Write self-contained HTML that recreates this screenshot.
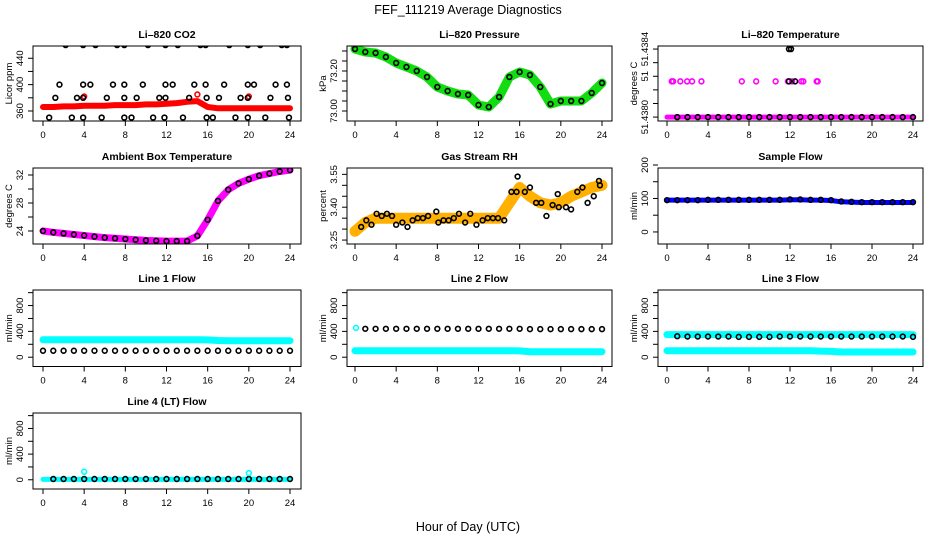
<!DOCTYPE html>
<html><head><meta charset="utf-8">
<style>
html,body{margin:0;padding:0;background:#fff;}
svg{display:block;font-family:"Liberation Sans",Arial,sans-serif;}
.tl{font-size:9.5px;fill:#000;}
.tt{font-size:10.5px;font-weight:bold;fill:#000;}
</style></head>
<body>
<svg id="chart" width="936" height="540" viewBox="0 0 936 540">
<rect width="936" height="540" fill="#fff"/>
<text x="468" y="14" text-anchor="middle" font-size="12.5">FEF_111219  Average Diagnostics</text>
<text x="468" y="531" text-anchor="middle" font-size="12.5">Hour of Day (UTC)</text>
</svg>
<script>
// ---- data ----
const hours = [0,1,2,3,4,5,6,7,8,9,10,11,12,13,14,15,16,17,18,19,20,21,22,23,24];
const xTicks = [0,4,8,12,16,20,24];
// CO2
const co2Band = [366,366,367,367,368,368,368,369,369,369,370,370,371,372,374,375,366,364,364,364,364,364,364,364,364];
const co2TopH = [2.2,3.9,5.1,7.2,7.9,10.2,11.9,13.1,15.3,15.8,18.1,19.9,21.1,23.2,23.7];
const co2MidH = [1.6,3.9,4.6,6.8,7.9,9.7,11.9,12.6,14.7,15.8,17.6,19.9,20.5,22.6,23.7];
const co2LowH = [1.2,3.3,3.9,6.2,7.9,9.1,11.3,11.9,14.2,15.9,17.1,19.2,19.9,22.1,23.8];
const co2BotH = [0.6,2.8,3.9,5.7,7.9,8.6,10.7,11.8,13.6,15.9,16.5,18.7,19.9,21.6,23.9];
const co2Levels = [460,400,380,350];
const co2OutH = [4,15,20];
const co2OutV = [382,385,382];
// Pressure
const presBand = [73.31,73.295,73.29,73.27,73.24,73.22,73.20,73.17,73.12,73.10,73.085,73.08,73.03,73.02,73.07,73.17,73.195,73.18,73.12,73.035,73.05,73.05,73.05,73.09,73.14];
// Li-820 temperature
const tempLow = 51.4380, tempMid = 51.43821, tempTop = 51.4384;
const tempMidH = [0.46,0.6,1.3,1.96,2.45,3.36,7.3,8.7,10.6,11.8,12.2,13.1,13.3,14.6,14.7];
const tempBlackMidH = [11.9,12.5];
const tempTopH = [11.9,12.1];
// Ambient
const ambBand = [24.0,23.8,23.65,23.5,23.35,23.2,23.05,22.95,22.85,22.75,22.65,22.6,22.55,22.55,22.55,23.3,25.6,28.3,29.9,30.8,31.4,31.9,32.2,32.5,32.7];
// RH
const rhBand = [3.29,3.33,3.35,3.35,3.35,3.35,3.35,3.35,3.35,3.35,3.35,3.35,3.35,3.35,3.35,3.42,3.49,3.45,3.42,3.41,3.42,3.45,3.47,3.49,3.50];
const rhBlackH = [0.6,1.1,1.6,2.1,2.6,3.1,3.6,4.0,4.6,5.1,5.6,6.1,6.6,7.1,7.9,8.1,8.6,9.1,9.6,10.1,10.7,11.2,11.8,12.4,12.9,13.4,13.9,14.5,15.2,15.8,15.7,16.5,17.0,17.6,18.1,18.6,19.2,19.7,19.8,20.5,21.0,21.6,22.1,22.6,23.2,23.7,23.8];
const rhBlackV = [3.31,3.34,3.32,3.37,3.36,3.37,3.36,3.32,3.33,3.31,3.34,3.35,3.35,3.36,3.38,3.33,3.34,3.34,3.35,3.37,3.33,3.37,3.32,3.34,3.35,3.35,3.35,3.34,3.47,3.54,3.47,3.47,3.49,3.42,3.42,3.36,3.41,3.46,3.40,3.40,3.39,3.47,3.49,3.42,3.45,3.52,3.50];
// Sample flow
const sampBand = [95,95,95,95,95,95,95,95,95,95,95,95,96,96,95,95,94,90,89,88,88,88,88,88,88];
const sampBlack = [95,95,95,95,96,96,96,96,96,96,96,96,97,97,96,96,95,91,90,89,89,89,89,89,89];
// Line flows
const l1Cyan = [270,270,270,270,270,270,270,270,270,270,270,270,270,270,270,270,268,258,256,255,255,255,255,255,255];
const l1Black = [100,100,100,100,100,100,100,100,100,100,100,100,100,100,100,100,100,100,100,100,100,100,100,100,100];
const l2Black = [440,440,440,440,440,440,440,440,440,440,440,440,440,440,440,440,440,435,435,435,435,435,435,435,435];
const l2CyanLow = [100,100,100,100,100,100,100,100,100,100,100,100,100,100,100,100,98,85,85,85,85,85,85,85,85];
const l3CyanHi = [350,350,350,350,350,350,350,350,350,350,350,350,350,350,350,350,350,350,350,350,350,350,350,350,350];
const l3Black = [330,325,320,320,320,320,320,315,315,315,315,320,320,320,320,320,320,320,320,320,320,320,320,320,315];
const l3CyanLow = [100,100,100,100,100,100,100,100,100,100,100,100,100,100,100,95,90,80,80,80,80,80,80,80,80];
const l4Black = [12,12,12,12,12,12,12,12,12,12,12,12,12,12,12,12,12,12,12,12,12,12,12,12,12];
const l4Cyan = [5,5,5,5,5,5,5,5,5,5,5,5,5,5,5,5,5,5,5,5,5,5,5,5,5];
const l4OutH = [4,20];
const l4OutV = [125,105];

// ---- layout ----
const svg = document.getElementById('chart');
const NS = 'http://www.w3.org/2000/svg';
const cols = [{bx0:33,bx1:301,h0:43,h24:290},{bx0:347,bx1:612,h0:355,h24:602},{bx0:658,bx1:923,h0:667,h24:913}];
const rows = [{y0:46,y1:121},{y0:168,y1:244},{y0:290,y1:366.5},{y0:413,y1:489}];
function mk(tag, attrs, parent){const e=document.createElementNS(NS,tag);for(const k in attrs)e.setAttribute(k,attrs[k]);(parent||svg).appendChild(e);return e;}

function panel(name, r, c, title, ylab, ylo, yhi, ticks, labels){
  const R=rows[r], C=cols[c];
  const g=mk('g',{});
  
  
  const X=h=>C.h0+(h/24)*(C.h24-C.h0);
  const Y=v=>R.y1-(v-ylo)/(yhi-ylo)*(R.y1-R.y0);
  const clipId='clip-'+name;
  const cp=mk('clipPath',{id:clipId},g); mk('rect',{x:C.bx0,y:R.y0,width:C.bx1-C.bx0,height:R.y1-R.y0},cp);
  const plot=mk('g',{'clip-path':'url(#'+clipId+')'},g);
  
  
  const box=mk('rect',{x:C.bx0,y:R.y0,width:C.bx1-C.bx0,height:R.y1-R.y0,fill:'none',stroke:'#000','stroke-width':1},g);
  
  
  const t=mk('text',{x:(C.bx0+C.bx1)/2,y:R.y0-8,'text-anchor':'middle',class:'tt'},g); t.textContent=title;
  
  
  const xa=mk('g',{},g);
  
  
  xTicks.forEach(h=>{
    mk('line',{x1:X(h),x2:X(h),y1:R.y1,y2:R.y1+5,stroke:'#000'},xa);
    const tx=mk('text',{x:X(h),y:R.y1+17,'text-anchor':'middle',class:'tl'},xa); tx.textContent=h;
  });
  const ya=mk('g',{},g);
  
  
  ticks.forEach((v,i)=>{
    const y=Y(v);
    mk('line',{x1:C.bx0-5,x2:C.bx0,y1:y,y2:y,stroke:'#000'},ya);
    if(labels[i]!==''){
      const tx=mk('text',{x:0,y:0,'text-anchor':'middle',class:'tl',transform:`translate(${C.bx0-10},${y}) rotate(-90)`},ya);
      tx.textContent=labels[i];
    }
  });
  const yl=mk('text',{x:0,y:0,'text-anchor':'middle',class:'tl',transform:`translate(${C.bx0-21},${(R.y0+R.y1)/2}) rotate(-90)`},g);
  yl.textContent=ylab;
  
  
  return {X,Y,plot};
}
function band(p, hs, vs, color, w, name){
  const pts=hs.map((h,i)=>p.X(h).toFixed(1)+','+p.Y(vs[i]).toFixed(1)).join(' ');
  const l=mk('polyline',{points:pts,fill:'none',stroke:color,'stroke-width':w,'stroke-linejoin':'round','stroke-linecap':'round'},p.plot);
  
  
}
function dots(p, hs, vs, color, name, r){
  const g=mk('g',{},p.plot);
  
  
  hs.forEach((h,i)=>{
    const v=Array.isArray(vs)?vs[i]:vs;
    mk('circle',{cx:p.X(h),cy:p.Y(v),r:r||2.4,fill:'none',stroke:color,'stroke-width':1.6},g);
  });
}
function range(a,b,s){const o=[];for(let v=a;v<=b+1e-9;v+=s)o.push(+v.toFixed(6));return o;}

// CO2
let p=panel('co2',0,0,'Li\u2013820 CO2','Licor ppm',344.8,458.6,[360,380,400,420,440],['360','','400','','440']);
band(p,hours,co2Band,'#ff0000',6,'co2-band');
dots(p,co2OutH,co2OutV,'#ff0000','co2-red-outliers');
dots(p,co2TopH,co2Levels[0],'#000','co2-points-460');
dots(p,co2MidH,co2Levels[1],'#000','co2-points-400');
dots(p,co2LowH,co2Levels[2],'#000','co2-points-380');
dots(p,co2BotH,co2Levels[3],'#000','co2-points-350');
// Pressure
p=panel('pressure',0,1,'Li\u2013820 Pressure','kPa',72.95,73.325,range(73.0,73.3,0.05),['73.00','','','','73.20','','']);
band(p,hours,presBand,'#11dd11',9,'pressure-band');
dots(p,hours,presBand,'#000','pressure-points');
// Li-820 Temp
const tTicks=range(51.4380,51.4384,0.00008);
p=panel('li820-temp',0,2,'Li\u2013820 Temperature','degrees C',51.437977,51.438418,tTicks,['51.4380','','','51','','51.4384']);
band(p,[0,24],[tempLow,tempLow],'#ff00ff',5,'li820-temp-band');
dots(p,hours.slice(1),tempLow,'#000','li820-temp-points-low');
dots(p,tempMidH,tempMid,'#ff00ff','li820-temp-points-mid');
dots(p,tempBlackMidH,tempMid,'#000','li820-temp-black-mid');
dots(p,tempTopH,tempTop,'#000','li820-temp-points-top');
// Ambient
p=panel('ambient-temp',1,0,'Ambient Box Temperature','degrees C',22.14,33,[24,26,28,30,32],['24','','28','','32']);
band(p,hours,ambBand,'#ff00ff',7,'ambient-band');
dots(p,hours,ambBand,'#000','ambient-points');
// RH
p=panel('gas-rh',1,1,'Gas Stream RH','percent',3.232,3.579,range(3.25,3.55,0.05),['3.25','','','3.40','','','3.55']);
band(p,hours,rhBand,'#ffb000',11,'rh-band');
dots(p,rhBlackH,rhBlackV,'#000','rh-points');
// Sample flow
p=panel('sample-flow',1,2,'Sample Flow','ml/min',-36,191,[0,50,100,150,200],['0','','100','','200']);
band(p,hours,sampBand,'#0000ff',5,'sample-band');
dots(p,hours,sampBlack,'#000','sample-points');
// Line flows
const lt=[0,200,400,600,800,1000], ll=['0','','400','','800',''];
p=panel('line1-flow',2,0,'Line 1 Flow','ml/min',-144,1041,lt,ll);
band(p,hours,l1Cyan,'#00ffff',7,'line1-cyan-band');
dots(p,hours,l1Black,'#000','line1-points');
p=panel('line2-flow',2,1,'Line 2 Flow','ml/min',-144,1041,lt,ll);
band(p,hours,l2CyanLow,'#00ffff',7,'line2-cyan-band');
dots(p,[0.1],[455],'#00ffff','line2-cyan-top');
dots(p,hours.slice(1),l2Black.slice(1),'#000','line2-points');
p=panel('line3-flow',2,2,'Line 3 Flow','ml/min',-144,1041,lt,ll);
band(p,hours,l3CyanHi,'#00ffff',7,'line3-cyan-band-high');
band(p,hours,l3CyanLow,'#00ffff',7,'line3-cyan-band-low');
dots(p,hours.slice(1),l3Black.slice(1),'#000','line3-points');
p=panel('line4-flow',3,0,'Line 4 (LT) Flow','ml/min',-144,1041,lt,ll);
band(p,hours,l4Cyan,'#00ffff',5,'line4-cyan-band');
dots(p,hours.slice(1),l4Black.slice(1),'#000','line4-points');
dots(p,l4OutH,l4OutV,'#00ffff','line4-outliers');
</script>
</body></html>
